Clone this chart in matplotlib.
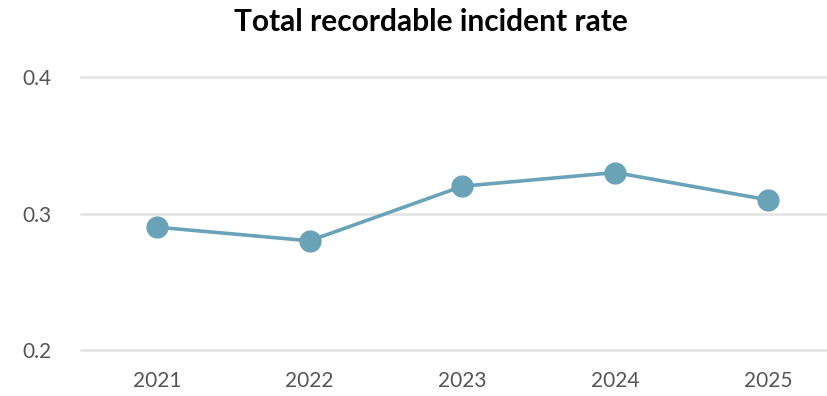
import matplotlib
matplotlib.use("Agg")
import matplotlib.pyplot as plt

# data
years = ["2021", "2022", "2023", "2024", "2025"]
rates = [0.29, 0.28, 0.32, 0.33, 0.31]
y_ticks = [0.2, 0.3, 0.4]
y_labels = ["0.2", "0.3", "0.4"]

plt.rcParams['font.family'] = ['Lato', 'DejaVu Sans']

fig = plt.figure(figsize=(8.27, 3.96), dpi=100)
ax = fig.add_axes([81 / 827, 46 / 396, 1 - 81 / 827, 273 / 396])

x = list(range(len(years)))
ax.plot(x, rates, color='#6aa3b8', linewidth=2.6, marker='o', markersize=15,
        clip_on=False, zorder=3)

ax.set_xlim(-0.497, 4.386)
ax.set_ylim(0.2, 0.4)
ax.set_xticks(x)
ax.set_xticklabels(years)
ax.set_yticks(y_ticks)
ax.set_yticklabels(y_labels)

ax.grid(axis='y', color='#e3e3e3', linewidth=1.8)
# keep the edge gridlines at full width
for gl in ax.get_ygridlines():
    gl.set_clip_on(False)
ax.set_axisbelow(True)
for s in ax.spines.values():
    s.set_visible(False)
ax.tick_params(axis='both', length=0, labelsize=15, colors='#555555')
ax.tick_params(axis='y', pad=21)
ax.tick_params(axis='x', pad=15)

fig.text(431 / 827, 1 - 22 / 396, "Total recordable incident rate",
         ha='center', va='center', fontsize=21.5, fontweight='bold', color='black')

fig.savefig("out.png", dpi=100)
